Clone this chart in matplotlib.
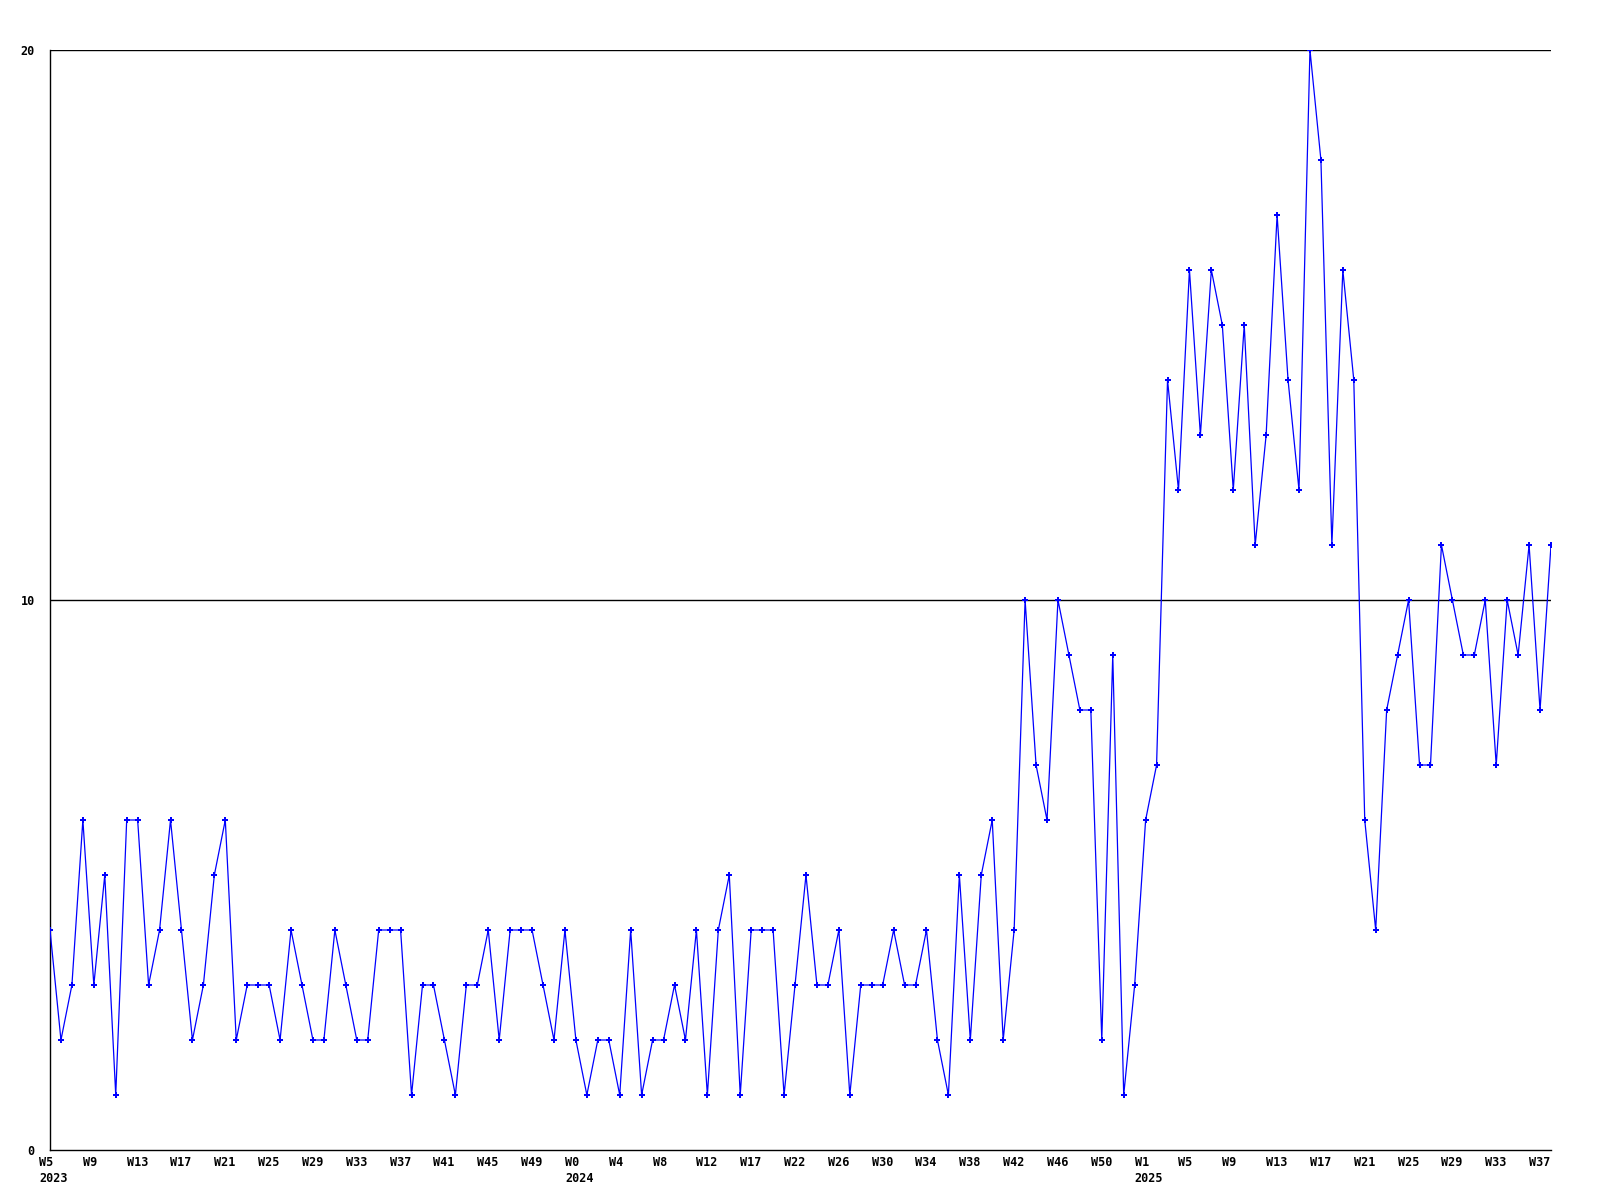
import matplotlib
matplotlib.use('Agg')
import matplotlib.pyplot as plt
from matplotlib.transforms import ScaledTranslation

# weekly counts, 2023 W5 .. 2025 W38
counts_2023a = [4, 2, 3, 6, 3, 5, 1, 6, 6, 3, 4, 6, 4, 2, 3, 5, 6, 2, 3, 3, 3, 2, 4, 3,
                2, 2, 4, 3, 2, 2, 4, 4, 4, 1]
counts_mid = [3, 3, 2, 1, 3, 3, 4, 2, 4, 4, 4, 3, 2, 4, 2, 1, 2, 2, 1, 4, 1, 2, 2, 3,
              2, 4, 1, 4, 5, 1, 4, 4, 4]
counts_2024b = [1, 3, 5, 3, 3, 4, 1, 3, 3, 3, 4, 3, 3, 4, 2, 1, 5, 2, 5, 6, 2, 4]
counts_late = [10, 7, 6, 10, 9, 8, 8, 2, 9, 1, 3, 6, 7]
counts_2025a = [14, 12, 16, 13, 16, 15, 12, 15, 11, 13, 17, 14, 12, 20, 18, 11, 16, 14]
counts_2025b = [6, 4, 8, 9, 10, 7, 7, 11, 10, 9, 9, 10, 7, 10, 9, 11, 8, 11]
values = counts_2023a + counts_mid + counts_2024b + counts_late + counts_2025a + counts_2025b

week_labels = ['W5\n2023', 'W9', 'W13', 'W17', 'W21', 'W25', 'W29', 'W33', 'W37', 'W41',
               'W45', 'W49', 'W0\n2024', 'W4', 'W8', 'W12', 'W17', 'W22', 'W26', 'W30',
               'W34', 'W38', 'W42', 'W46', 'W50', 'W1\n2025', 'W5', 'W9', 'W13', 'W17',
               'W21', 'W25', 'W29', 'W33', 'W37']
y_ticks = [0, 10, 20]

fig = plt.figure(figsize=(16, 12), dpi=100)
ax = fig.add_axes([50 / 1600, 50 / 1200, 1501 / 1600, 1100 / 1200])

xs = list(range(len(values)))
ax.plot(xs, values, color='#0000ff', lw=0.9, marker='P', ms=4, mew=0, zorder=3)

for v in y_ticks[1:]:
    ax.axhline(v, color='black', lw=1.0, zorder=1)

ax.set_xlim(0, len(values) - 1)
ax.set_ylim(0, 20)
for s in ['top', 'right']:
    ax.spines[s].set_visible(False)
for s in ['left', 'bottom']:
    ax.spines[s].set_linewidth(1.0)

font = dict(family='DejaVu Sans Mono', weight='bold', size=8.5)
ax.set_yticks(y_ticks)
ax.set_yticklabels([str(v) for v in y_ticks], **font)
ax.set_xticks(xs[::4])
ax.set_xticklabels(week_labels, ha='left', va='top', linespacing=1.3, **font)
ax.tick_params(axis='both', length=0)
ax.tick_params(axis='y', pad=11)
ax.tick_params(axis='x', pad=4)

shift = ScaledTranslation(-11 / 100, 0, fig.dpi_scale_trans)
for lbl in ax.get_xticklabels():
    lbl.set_transform(lbl.get_transform() + shift)

fig.savefig('out.png', dpi=100, facecolor='white')
